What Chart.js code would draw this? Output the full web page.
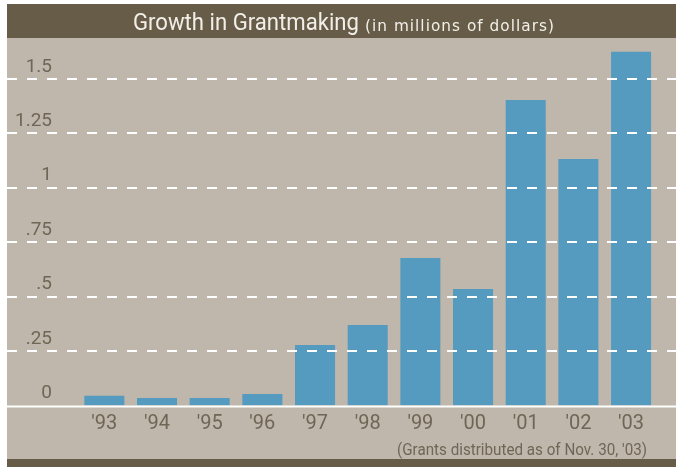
<!DOCTYPE html>
<html>
<head>
<meta charset="utf-8">
<script src="https://cdn.jsdelivr.net/npm/chart.js@4"></script>
<style>
  html, body { margin: 0; padding: 0; background: #ffffff; }
  #wrap { width: 676px; height: 467px; }
</style>
</head>
<body>
<div id="wrap"><canvas id="myChart" width="676" height="467"></canvas></div>
<script>
// data (millions of dollars)
const years = ["'93", "'94", "'95", "'96", "'97", "'98", "'99", "'00", "'01", "'02", "'03"];
const grants = [0.045, 0.034, 0.034, 0.053, 0.278, 0.37, 0.677, 0.535, 1.403, 1.132, 1.624];
const yTicks = [0, 0.25, 0.5, 0.75, 1, 1.25, 1.5];
const yTickLabels = ['0', '.25', '.5', '.75', '1', '1.25', '1.5'];

const titleMain = 'Growth in Grantmaking';
const titleSub = '(in millions of dollars)';
const footNote = "(Grants distributed as of Nov. 30, '03)";

const beige = '#bfb7ab';
const dark = '#675c48';
const textColor = '#6f6656';

// draw text squeezed to a given width (the original uses a condensed face)
function fitText(c, text, x, y, width) {
    const m = c.measureText(text).width;
    c.save();
    c.translate(x, y);
    c.scale(width / m, 1);
    c.fillText(text, 0, 0);
    c.restore();
}

// panel, title bar, dashed lines and note
const decor = {
    id: 'decor',
    beforeDraw(chart) {
        const c = chart.ctx;
        const w = chart.width;
        c.save();
        c.fillStyle = '#ffffff';
        c.fillRect(0, 0, w, chart.height);
        c.fillStyle = beige;
        c.fillRect(7, 38, w - 7, 421);
        c.fillStyle = dark;
        c.fillRect(7, 4, w - 7, 34);
        c.fillRect(7, 459, w - 7, 8);

        // title
        c.fillStyle = '#f2efe9';
        c.textAlign = 'left';
        c.textBaseline = 'alphabetic';
        c.font = '23px Roboto';
        fitText(c, titleMain, 133, 30, 226);
        c.font = '15px "DejaVu Sans"';
        c.letterSpacing = '1px';
        fitText(c, titleSub, 365, 30.5, 190);
        c.restore();
    },
    afterDatasetsDraw(chart) {
        const c = chart.ctx;
        const y = chart.scales.y;
        c.save();
        c.strokeStyle = '#ffffff';
        c.lineWidth = 2;
        c.setLineDash([10, 10]);
        yTicks.forEach((v) => {
            if (v === 0) return;
            const py = Math.round(y.getPixelForValue(v));
            c.beginPath();
            c.moveTo(7, py);
            c.lineTo(chart.width, py);
            c.stroke();
        });
        c.setLineDash([]);
        const p0 = y.getPixelForValue(0) + 1;
        c.beginPath();
        c.moveTo(7, p0);
        c.lineTo(chart.width, p0);
        c.stroke();

        c.fillStyle = textColor;
        c.font = '17px Roboto';
        c.textAlign = 'left';
        c.textBaseline = 'alphabetic';
        fitText(c, footNote, 397, 455, 250);
        c.restore();
    }
};

const ctx = document.getElementById('myChart').getContext('2d');

const myChart = new Chart(ctx, {
    type: 'bar',
    data: {
        labels: years,
        datasets: [
            {
                data: grants,
                backgroundColor: '#559abf',
                borderWidth: 0,
                barPercentage: 0.76,
                categoryPercentage: 1.0
            }
        ]
    },
    options: {
        responsive: false,
        animation: false,
        layout: {
            padding: { left: 7, right: 18.6, top: 40, bottom: 0 }
        },
        scales: {
            x: {
                grid: { display: false, drawTicks: false },
                border: { display: false },
                ticks: {
                    color: textColor,
                    font: { family: 'Roboto', size: 20 },
                    padding: 6,
                    maxRotation: 0,
                    autoSkip: false
                },
                afterFit: (axis) => { axis.height = 61.5; }
            },
            y: {
                min: 0,
                max: 1.678,
                grid: { display: false, drawTicks: false },
                border: { display: false },
                afterBuildTicks: (axis) => {
                    axis.ticks = yTicks.map((v) => ({ value: v }));
                },
                ticks: {
                    color: textColor,
                    font: { family: 'Roboto', size: 19 },
                    padding: 26,
                    labelOffset: -12,
                    autoSkip: false,
                    callback: (value, i) => yTickLabels[i]
                },
                afterFit: (axis) => { axis.width = 71; }
            }
        },
        plugins: {
            legend: { display: false },
            tooltip: { enabled: false }
        }
    },
    plugins: [decor]
});
</script>
</body>
</html>
